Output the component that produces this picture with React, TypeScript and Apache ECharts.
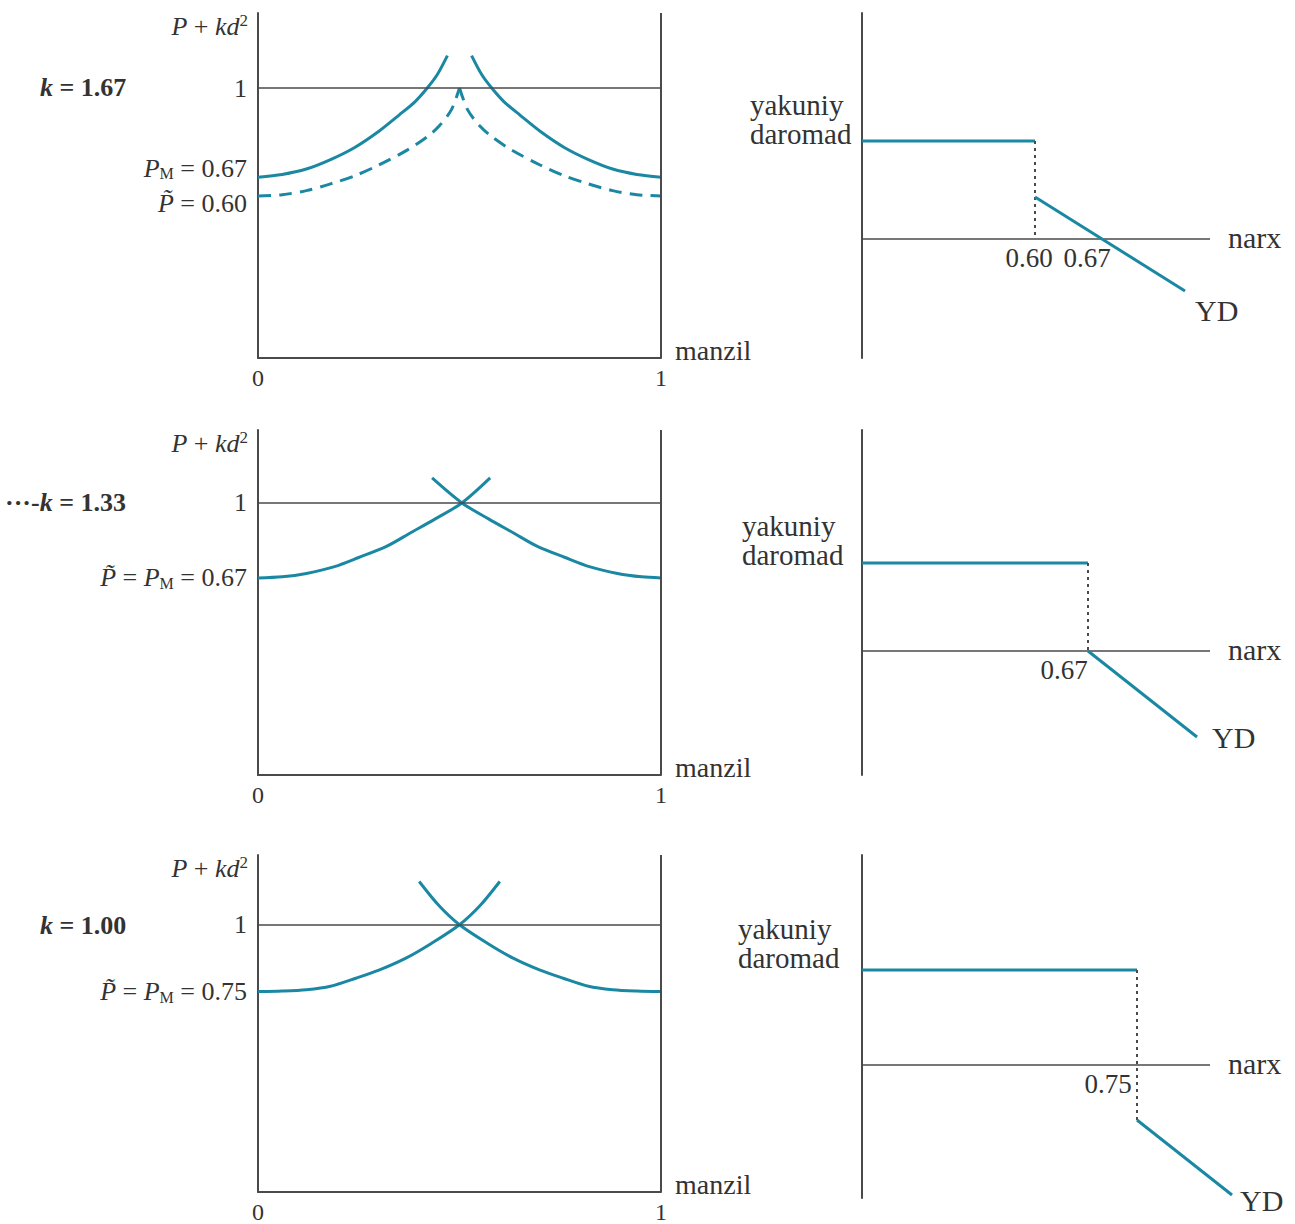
import React, { useEffect, useRef } from "react";
import * as echarts from "echarts";

const FONT = "'Liberation Serif', 'Times New Roman', 'DejaVu Serif', serif";
const TEAL = "#1b88a3";
const AXIS = "#4a4a4a";
const TEXT = "#333333";

// ---- location axis (left panels) ----
const locationTicks = [0, 1];

// ---- k = 1.67 ----
const k167Title = "{k|k} = 1.67";
const k167Ticks = [1, 0.67, 0.6];
const k167TickLabels = ["1", "{iu|P}{su|M}{u| = 0.67}", "{id|P\u0303}{d| = 0.60}"];
const k167MillLeft = [[0, 0.67], [0.06, 0.68], [0.12, 0.7], [0.18, 0.735], [0.24, 0.78], [0.3, 0.84], [0.35, 0.9], [0.39, 0.95], [0.42, 1.0], [0.445, 1.05], [0.47, 1.12]];
const k167MillRight = [[0.53, 1.12], [0.555, 1.05], [0.58, 1.0], [0.61, 0.95], [0.65, 0.9], [0.7, 0.84], [0.76, 0.78], [0.82, 0.735], [0.88, 0.7], [0.94, 0.68], [1, 0.67]];
const k167UniformLeft = [[0, 0.6], [0.06, 0.605], [0.12, 0.62], [0.18, 0.645], [0.24, 0.675], [0.3, 0.715], [0.37, 0.77], [0.42, 0.82], [0.45, 0.86], [0.48, 0.92], [0.5, 1.0]];
const k167UniformRight = [[0.5, 1.0], [0.52, 0.92], [0.55, 0.86], [0.58, 0.82], [0.63, 0.77], [0.7, 0.715], [0.76, 0.675], [0.82, 0.645], [0.88, 0.62], [0.94, 0.605], [1, 0.6]];
const k167PriceTicks = [0.6, 0.67];
const k167PriceLabels = ["{a|0.60}", "{b|0.67}"];
const k167Flat = [[0.427, 0.98], [0.6, 0.98]];
const k167Drop = [[0.6, 0.98], [0.6, 0]];
const k167Slope = [[0.6, 0.42], [0.75, -0.52]];

// ---- k = 1.33 ----
const k133Title = "\u00b7\u00b7\u00b7-{k|k} = 1.33";
const k133Ticks = [1, 0.67];
const k133TickLabels = ["1", "{i|P\u0303} = {i|P}{s|M} = 0.67"];
const k133Left = [[0, 0.67], [0.06, 0.675], [0.12, 0.69], [0.19, 0.72], [0.25, 0.76], [0.32, 0.81], [0.38, 0.87], [0.44, 0.93], [0.506, 1.0], [0.576, 1.11]];
const k133Right = [[0.432, 1.11], [0.506, 1.0], [0.572, 0.93], [0.632, 0.87], [0.692, 0.81], [0.762, 0.76], [0.822, 0.72], [0.892, 0.69], [0.952, 0.675], [1, 0.67]];
const k133PriceTicks = [0.67];
const k133PriceLabels = ["{c|0.67}"];
const k133Flat = [[0.444, 0.88], [0.67, 0.88]];
const k133Drop = [[0.67, 0.88], [0.67, 0]];
const k133Slope = [[0.67, 0], [0.779, -0.86]];

// ---- k = 1.00 ----
const k100Title = "{k|k} = 1.00";
const k100Ticks = [1, 0.75];
const k100TickLabels = ["1", "{i|P\u0303} = {i|P}{s|M} = 0.75"];
const k100Left = [[0, 0.75], [0.06, 0.752], [0.12, 0.757], [0.18, 0.77], [0.243, 0.8], [0.3, 0.83], [0.367, 0.875], [0.43, 0.93], [0.5, 1.0], [0.55, 1.07], [0.6, 1.162]];
const k100Right = [[0.4, 1.162], [0.45, 1.07], [0.5, 1.0], [0.57, 0.93], [0.633, 0.875], [0.7, 0.83], [0.757, 0.8], [0.82, 0.77], [0.88, 0.757], [0.94, 0.752], [1, 0.75]];
const k100PriceTicks = [0.75];
const k100PriceLabels = ["{d|0.75}"];
const k100Flat = [[0.475, 0.95], [0.75, 0.95]];
const k100Drop = [[0.75, 0.95], [0.75, -0.55]];
const k100Slope = [[0.75, -0.55], [0.845, -1.3]];

// ---- axis ranges ----
const costRanges = [[0, 1.278], [-0.197, 1.321], [0, 1.261]];
// price axis: [start, end of the drawn "narx" line]
const priceRanges = [[0.427, 0.775], [0.444, 0.792], [0.475, 0.823]];
const revenueRanges = [[-1.19, 2.26], [-1.24, 2.21], [-1.33, 2.1]];

// ---- layout ----
const rowTops = [13, 430, 855];
const rowHeights = [345, 345, 343];
const titleY = [87, 502, 925];
const titleX = [40, 5, 40];
const revenueNameX = [750, 742, 738];
const revenueNameY = [90, 511, 914];
const ydOffsets = [[5, 19], [10, 0], [3, 5]];
const RIGHT_LEFT = 862;
const RIGHT_AXIS_W = 348; // length of the drawn price line
const RIGHT_GRID_W = 400; // plotting room, so YD can run past the price line

const rows = [
  {
    title: k167Title, ticks: k167Ticks, tickLabels: k167TickLabels,
    solid: [k167MillLeft, k167MillRight], dashed: [k167UniformLeft, k167UniformRight],
    priceTicks: k167PriceTicks, priceLabels: k167PriceLabels,
    flat: k167Flat, drop: k167Drop, slope: k167Slope,
  },
  {
    title: k133Title, ticks: k133Ticks, tickLabels: k133TickLabels,
    solid: [k133Left, k133Right], dashed: [],
    priceTicks: k133PriceTicks, priceLabels: k133PriceLabels,
    flat: k133Flat, drop: k133Drop, slope: k133Slope,
  },
  {
    title: k100Title, ticks: k100Ticks, tickLabels: k100TickLabels,
    solid: [k100Left, k100Right], dashed: [],
    priceTicks: k100PriceTicks, priceLabels: k100PriceLabels,
    flat: k100Flat, drop: k100Drop, slope: k100Slope,
  },
];

const LBL = 26;
const SUB = 16;
const base = { fontFamily: FONT, fontSize: LBL, color: TEXT };
const ital = { ...base, fontStyle: "italic" };
const sub = { fontFamily: FONT, fontSize: SUB, color: TEXT };
const labelRich = {
  i: ital,
  s: { ...sub, padding: [11, 0, 0, 0] },
  sup: { ...sub, fontSize: 17, padding: [0, 0, 12, 0] },
  // lifted variants (label sits slightly above its tick)
  u: { ...base, padding: [0, 0, 18, 0] },
  iu: { ...ital, padding: [0, 0, 18, 0] },
  su: { ...sub, padding: [11, 0, 18, 0] },
  // lowered variants
  d: { ...base, padding: [14, 0, 0, 0] },
  id: { ...ital, padding: [14, 0, 0, 0] },
};

const PRICE = 27;
const priceRich = {
  a: { fontFamily: FONT, fontSize: PRICE, color: TEXT, padding: [0, 12, 0, 0] },
  b: { fontFamily: FONT, fontSize: PRICE, color: TEXT, padding: [0, 36, 0, 0] },
  c: { fontFamily: FONT, fontSize: PRICE, color: TEXT, padding: [0, 48, 0, 0] },
  d: { fontFamily: FONT, fontSize: PRICE, color: TEXT, padding: [0, 58, 0, 0] },
};

const nameRich = {
  m: { fontFamily: FONT, fontSize: 28, color: TEXT, padding: [0, 0, 16, 0] },
};

function pick(ticks: number[], labels: string[], v: number) {
  const i = ticks.findIndex((t) => Math.abs(t - v) < 1e-6);
  return i >= 0 ? labels[i] : "";
}

function buildOption() {
  const grid: any[] = [];
  const xAxis: any[] = [];
  const yAxis: any[] = [];
  const series: any[] = [];
  const graphic: any[] = [];

  rows.forEach((row, r) => {
    const gl = 2 * r;
    const gr = 2 * r + 1;
    grid.push({ left: 258, width: 403, top: rowTops[r], height: rowHeights[r] });
    grid.push({ left: RIGHT_LEFT, width: RIGHT_GRID_W, top: rowTops[r], height: rowHeights[r] });

    // left panel: location axis
    xAxis.push({
      type: "value", gridIndex: gl, min: 0, max: 1,
      axisLine: { show: true, onZero: false, lineStyle: { color: AXIS, width: 2 } },
      axisTick: { show: false }, splitLine: { show: false },
      axisLabel: {
        customValues: locationTicks, margin: 8, hideOverlap: false,
        fontFamily: FONT, fontSize: 24, color: TEXT,
        formatter: (v: number) => String(v),
      },
      name: "{m|manzil}", nameLocation: "end", nameGap: 14,
      nameTextStyle: { fontFamily: FONT, fontSize: 28, color: TEXT, align: "left", verticalAlign: "middle", rich: nameRich },
    });

    // right panel: price axis; its labels sit where net revenue is zero
    const [rMin, rMax] = revenueRanges[r];
    const [pMin, pEnd] = priceRanges[r];
    const pMax = pMin + ((pEnd - pMin) * RIGHT_GRID_W) / RIGHT_AXIS_W;
    const zeroOffset = -((0 - rMin) / (rMax - rMin)) * rowHeights[r];
    xAxis.push({
      type: "value", gridIndex: gr, min: pMin, max: pMax,
      offset: zeroOffset,
      axisLine: { show: false },
      axisTick: { show: false }, splitLine: { show: false },
      axisLabel: {
        customValues: row.priceTicks, margin: 5, hideOverlap: false,
        fontFamily: FONT, fontSize: PRICE, color: TEXT,
        formatter: (v: number) => pick(row.priceTicks, row.priceLabels, v),
        rich: priceRich,
      },
    });

    // left panel: P + kd^2 axis
    yAxis.push({
      type: "value", gridIndex: gl, min: costRanges[r][0], max: costRanges[r][1],
      axisLine: { show: true, onZero: false, lineStyle: { color: AXIS, width: 2 } },
      axisTick: { show: false }, splitLine: { show: false },
      axisLabel: {
        customValues: row.ticks, margin: 11, hideOverlap: false,
        fontFamily: FONT, fontSize: LBL, color: TEXT,
        formatter: (v: number) => pick(row.ticks, row.tickLabels, v),
        rich: labelRich,
      },
      name: "{i|P} + {i|kd}{sup|2}", nameLocation: "end", nameGap: 1,
      nameTextStyle: {
        fontFamily: FONT, fontSize: LBL, color: TEXT, align: "right", verticalAlign: "top",
        padding: [0, 10, 0, 0], rich: labelRich,
      },
    });
    // right panel: net revenue axis
    yAxis.push({
      type: "value", gridIndex: gr, min: rMin, max: rMax,
      axisLine: { show: true, onZero: false, lineStyle: { color: AXIS, width: 2 } },
      axisTick: { show: false }, splitLine: { show: false }, axisLabel: { show: false },
    });

    const curve = (data: number[][], dashed: boolean, withRefs: boolean) => ({
      type: "line", xAxisIndex: gl, yAxisIndex: gl, data,
      smooth: 0.3, symbol: "none", silent: true, clip: false,
      lineStyle: { color: TEAL, width: 3, type: dashed ? [13, 8] : "solid" },
      markLine: withRefs
        ? {
            silent: true, symbol: "none", label: { show: false },
            lineStyle: { color: AXIS, width: 1.5, type: "solid" },
            data: [{ yAxis: 1 }, { xAxis: 1, lineStyle: { color: AXIS, width: 2, type: "solid" } }],
          }
        : undefined,
    });
    series.push(curve(row.solid[0], false, true));
    series.push(curve(row.solid[1], false, false));
    row.dashed.forEach((d) => series.push(curve(d, true, false)));

    // price ("narx") line at zero net revenue
    series.push({
      type: "line", xAxisIndex: gr, yAxisIndex: gr, data: [[pMin, 0], [pEnd, 0]],
      symbol: "none", silent: true, z: 1,
      lineStyle: { color: AXIS, width: 1.5 },
      markPoint: {
        silent: true, symbol: "circle", symbolSize: 0,
        data: [{ coord: [pEnd, 0] }],
        label: {
          show: true, formatter: "narx", position: "right", distance: 18, offset: [0, -2],
          fontFamily: FONT, fontSize: 30, color: TEXT,
        },
      },
    });
    series.push({
      type: "line", xAxisIndex: gr, yAxisIndex: gr, data: row.flat, symbol: "none", silent: true,
      lineStyle: { color: TEAL, width: 3 },
    });
    series.push({
      type: "line", xAxisIndex: gr, yAxisIndex: gr, data: row.drop, symbol: "none", silent: true,
      lineStyle: { color: AXIS, width: 2, type: [3, 4] },
    });
    const yd = row.slope[row.slope.length - 1];
    series.push({
      type: "line", xAxisIndex: gr, yAxisIndex: gr, data: row.slope, symbol: "none", silent: true,
      lineStyle: { color: TEAL, width: 3 },
      markPoint: {
        silent: true, symbol: "circle", symbolSize: 0,
        data: [{ coord: yd }],
        label: {
          show: true, formatter: "YD", position: "right", distance: 5,
          fontFamily: FONT, fontSize: 30, color: TEXT, offset: ydOffsets[r],
        },
      },
    });

    graphic.push({
      type: "text", x: titleX[r], y: titleY[r],
      style: {
        text: row.title, fontFamily: FONT, fontSize: 26, fontWeight: "bold", fill: TEXT,
        verticalAlign: "middle", align: "left",
        rich: { k: { fontFamily: FONT, fontSize: 26, fontWeight: "bold", fontStyle: "italic", fill: TEXT } },
      },
    });
    graphic.push({
      type: "text", x: revenueNameX[r], y: revenueNameY[r],
      style: {
        text: "yakuniy\ndaromad", fontFamily: FONT, fontSize: 29, lineHeight: 29, fill: TEXT,
        align: "left", verticalAlign: "top",
      },
    });
  });

  return { animation: false, backgroundColor: "#ffffff", grid, xAxis, yAxis, series, graphic };
}

export default function App() {
  const ref = useRef<HTMLDivElement>(null);
  useEffect(() => {
    if (!ref.current) return;
    const chart = echarts.init(ref.current, undefined, { renderer: "svg" });
    chart.setOption(buildOption() as any);
    return () => chart.dispose();
  }, []);
  return (
    <div
      ref={ref}
      style={{ position: "absolute", left: 0, top: 0, width: 1295, height: 1224, background: "#fff" }}
    />
  );
}
